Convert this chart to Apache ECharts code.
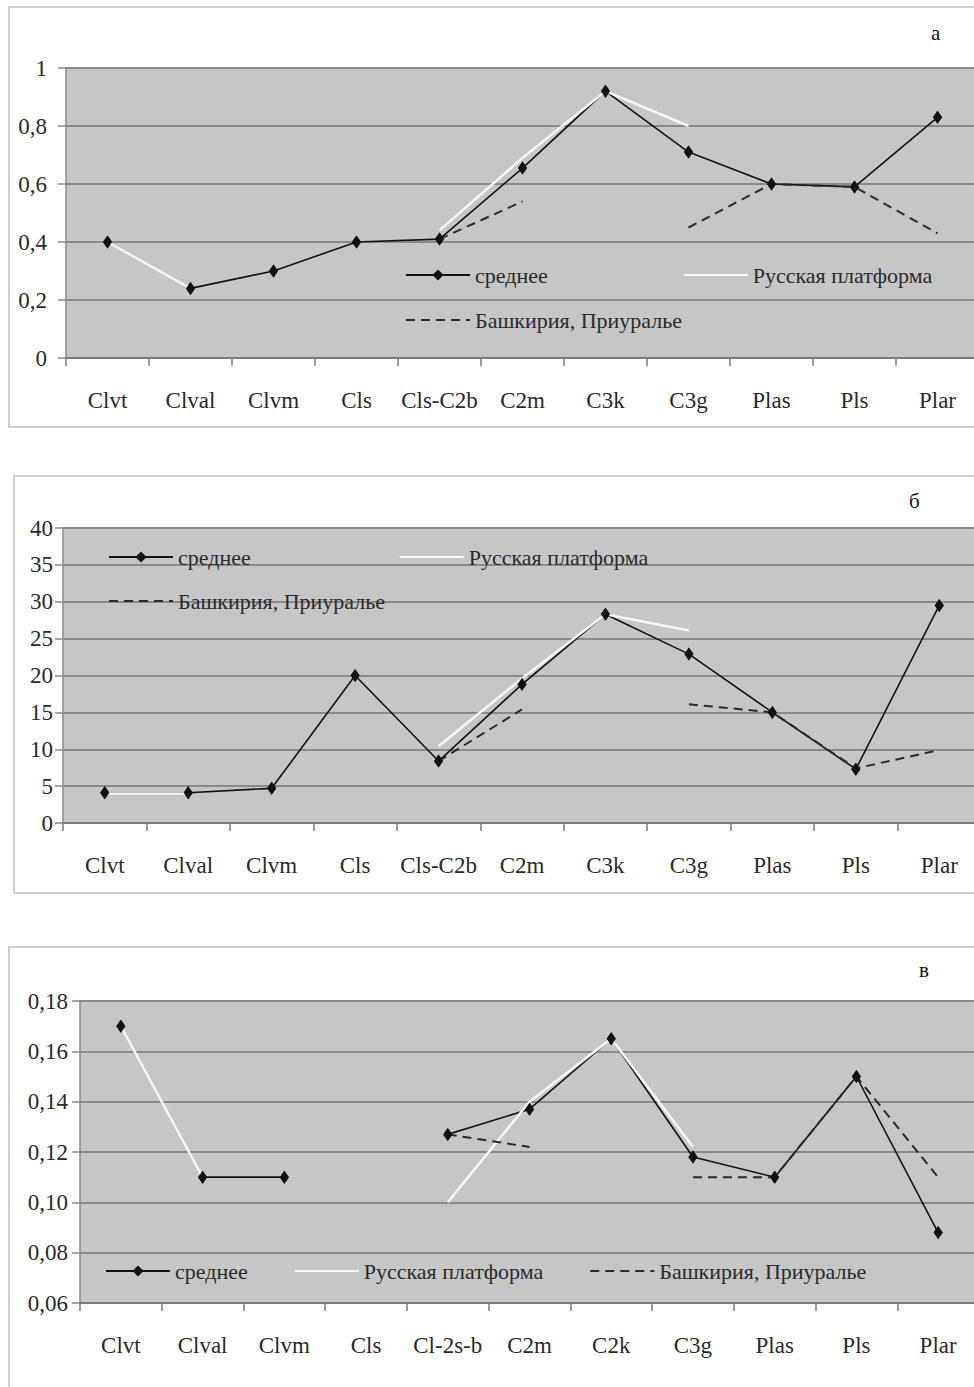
<!DOCTYPE html>
<html><head><meta charset="utf-8">
<script src="https://cdn.jsdelivr.net/npm/echarts@6/dist/echarts.min.js"></script>
<style>html,body{margin:0;padding:0;background:#fff;overflow:hidden}#c{width:1000px;height:1387px}</style>
</head><body><div id="c"></div>
<script>
// ---- data ----
const categoriesAB = ['Clvt','Clval','Clvm','Cls','Cls-C2b','C2m','C3k','C3g','Plas','Pls','Plar'];
const categoriesV  = ['Clvt','Clval','Clvm','Cls','Cl-2s-b','C2m','C2k','C3g','Plas','Pls','Plar'];
const seriesNames = ['среднее','Русская платформа','Башкирия, Приуралье'];
const panelLetters = ['а','б','в'];

const meanA    = [0.40,0.24,0.30,0.40,0.41,0.655,0.92,0.71,0.60,0.59,0.83];
const russianA = [0.40,0.24,null,null,0.44,0.69,0.92,0.80,null,null,null];
const bashA    = [null,null,null,null,0.41,0.54,null,0.45,0.60,0.59,0.43];

const meanB    = [4.1,4.1,4.7,20.0,8.4,18.8,28.3,22.9,15.0,7.3,29.5];
const russianB = [4.0,4.0,null,null,10.4,19.6,28.3,26.1,null,null,null];
const bashB    = [null,null,null,null,8.4,15.4,null,16.1,15.0,7.4,9.9];

const meanV    = [0.17,0.11,0.11,null,0.127,0.137,0.165,0.118,0.11,0.15,0.088];
const russianV = [0.17,0.11,null,null,0.10,0.14,0.165,0.122,null,null,null];
const bashV    = [null,null,null,null,0.127,0.122,null,0.11,0.11,0.15,0.11];

const yTicksA = {min:0, max:1, interval:0.2, digits:-1};
const yTicksB = {min:0, max:40, interval:5, digits:0};
const yTicksV = {min:0.06, max:0.18, interval:0.02, digits:2};

// ---- layout ----
const FONT = 'Liberation Serif';
const panels = [
  {cats:categoriesAB, mean:meanA, rus:russianA, bash:bashA, ticks:yTicksA,
   grid:{left:66, top:68, width:913, height:290}, yMargin:19,
   frame:{x:9,y:7,width:990,height:420}, letter:{left:931, top:22}},
  {cats:categoriesAB, mean:meanB, rus:russianB, bash:bashB, ticks:yTicksB,
   grid:{left:63, top:528, width:918, height:295}, yMargin:10,
   frame:{x:14,y:476,width:990,height:417}, letter:{left:909, top:490}},
  {cats:categoriesV, mean:meanV, rus:russianV, bash:bashV, ticks:yTicksV,
   grid:{left:80, top:1001, width:899, height:302}, yMargin:12,
   frame:{x:9,y:947,width:990,height:470}, letter:{left:919, top:959}}
];

function fmt(t){
  return function(v){
    let s = t.digits>=0 ? v.toFixed(t.digits) : String(Math.round(v*1000)/1000);
    return s.replace('.', ',');
  };
}

const labelStyle = {fontSize:23, color:'#2a2a2a', fontFamily:FONT, fontStyle:'normal', fontWeight:'normal'};
const grids=[], xAxes=[], yAxes=[], series=[], titles=[], graphics=[];
panels.forEach((p,k)=>{
  grids.push(Object.assign({show:true, backgroundColor:'#c6c6c6', borderWidth:0}, p.grid));
  xAxes.push({type:'category', gridIndex:k, data:p.cats, boundaryGap:true,
    axisLine:{show:true, lineStyle:{color:'#7a7a7a', width:2}},
    axisTick:{show:true, length:8, lineStyle:{color:'#7a7a7a', width:1.5}},
    axisLabel:Object.assign({margin:31, interval:0}, labelStyle),
    splitLine:{show:false}});
  yAxes.push({type:'value', gridIndex:k, min:p.ticks.min, max:p.ticks.max, interval:p.ticks.interval,
    axisLine:{show:true, lineStyle:{color:'#8a8a8a', width:1.5}},
    axisTick:{show:true, length:8, lineStyle:{color:'#8a8a8a', width:1.5}},
    axisLabel:Object.assign({margin:p.yMargin, formatter:fmt(p.ticks)}, labelStyle),
    splitLine:{show:true, lineStyle:{color:'#8a8a8a', width:2}}});
  series.push({type:'line', name:seriesNames[0], xAxisIndex:k, yAxisIndex:k, data:p.mean, z:2,
    color:'#111', lineStyle:{color:'#111', width:1.6}, symbol:'diamond', symbolSize:[9,13],
    itemStyle:{color:'#111'}, showSymbol:true});
  series.push({type:'line', name:seriesNames[1], xAxisIndex:k, yAxisIndex:k, data:p.rus, z:3,
    color:'#f6f6f6', lineStyle:{color:'#f6f6f6', width:2.5}, symbol:'none'});
  series.push({type:'line', name:seriesNames[2], xAxisIndex:k, yAxisIndex:k, data:p.bash, z:4,
    color:'#2a2a2a', lineStyle:{color:'#2a2a2a', width:2, type:[9,6]}, symbol:'none'});
  series.push({type:'line', name:'markers'+k, xAxisIndex:k, yAxisIndex:k, data:p.mean, z:5,
    lineStyle:{width:0, opacity:0}, symbol:'diamond', symbolSize:[9,13], itemStyle:{color:'#111'}, silent:true});
  titles.push({text:panelLetters[k], left:p.letter.left, top:p.letter.top, padding:0,
    textStyle:{fontFamily:FONT, fontSize:21, fontWeight:'normal', color:'#111'}});
  graphics.push({type:'rect', shape:p.frame, style:{fill:'none', stroke:'#cfcfcf', lineWidth:2}, z:-1});
});

const legTxt = {fontFamily:FONT, fontSize:22, color:'#2a2a2a'};
const legBase = {selectedMode:false, padding:0, itemWidth:64, itemHeight:14, textStyle:legTxt, orient:'horizontal'};
const noSym = {opacity:0};
const itMean = {name:seriesNames[0]};
const itRus = {name:seriesNames[1], itemStyle:noSym};
const itBash = {name:seriesNames[2], itemStyle:noSym};
const legends = [
  Object.assign({}, legBase, {data:[itMean,itRus], left:405, top:264, itemGap:135}),
  Object.assign({}, legBase, {data:[itBash], left:405, top:309}),
  Object.assign({}, legBase, {data:[itMean,itRus], left:108, top:546, itemGap:148}),
  Object.assign({}, legBase, {data:[itBash], left:108, top:590}),
  Object.assign({}, legBase, {data:[itMean,itRus,itBash], left:105, top:1260, itemGap:46})
];

const chart = echarts.init(document.getElementById('c'), null, {renderer:'svg'});
chart.setOption({
  animation:false, backgroundColor:'#fff',
  textStyle:{fontFamily:FONT},
  title:titles, grid:grids, xAxis:xAxes, yAxis:yAxes, series:series, legend:legends,
  graphic:graphics
});
</script></body></html>
